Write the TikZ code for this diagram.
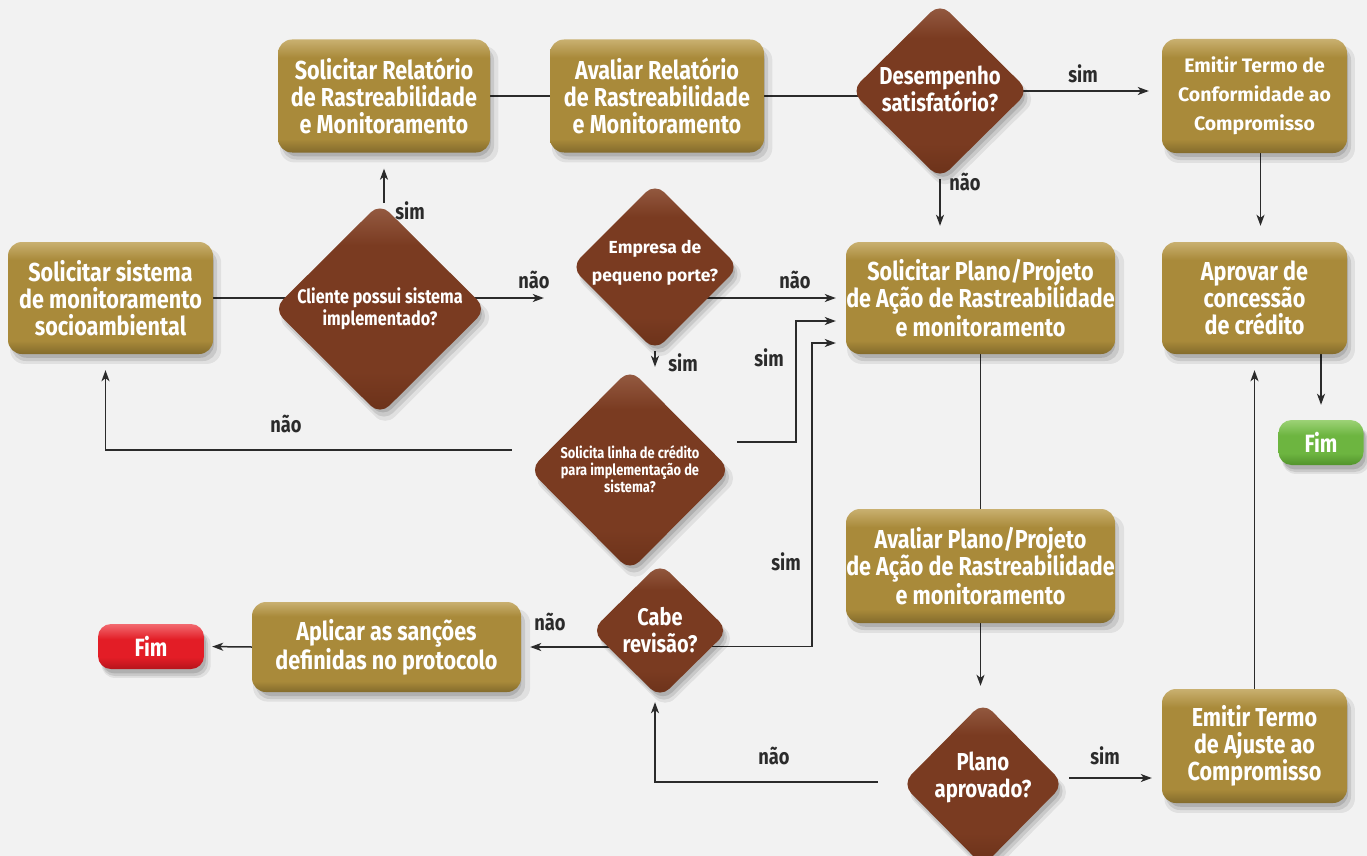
\documentclass[tikz,border=0pt]{standalone}
\usepackage{fontspec}
\setmainfont{Fira Sans}
\newfontfamily\cond{Fira Sans}[FakeStretch=0.83]
\newfontfamily\plain{Fira Sans}
\usetikzlibrary{shapes.geometric,arrows.meta,shadows}
\pgfdeclarelayer{bgl}
\pgfdeclarelayer{lines}
\pgfsetlayers{bgl,lines,main}
\definecolor{bgc}{HTML}{F2F2F2}
\definecolor{gold}{HTML}{A98A3A}
\definecolor{goldT}{HTML}{C9B070}
\definecolor{goldB}{HTML}{836B2C}
\definecolor{brn}{HTML}{7A3B21}
\definecolor{brnT}{HTML}{975E45}
\definecolor{brnD}{HTML}{6A3119}
\definecolor{redc}{HTML}{E31D26}
\definecolor{redT}{HTML}{F26A70}
\definecolor{redB}{HTML}{B5141B}
\definecolor{grn}{HTML}{6DB540}
\definecolor{grnT}{HTML}{9CD276}
\definecolor{grnB}{HTML}{52932C}
\definecolor{lnc}{HTML}{2B2B2B}
\pgfdeclareverticalshading{goldsh}{100bp}{color(0bp)=(goldB); color(25bp)=(goldB); color(31bp)=(gold); color(67bp)=(gold); color(75bp)=(goldT); color(100bp)=(goldT)}
\pgfdeclareverticalshading{brnsh}{100bp}{color(0bp)=(brnD); color(25bp)=(brnD); color(35bp)=(brn); color(65bp)=(brn); color(75bp)=(brnT); color(100bp)=(brnT)}
\pgfdeclareverticalshading{redsh}{100bp}{color(0bp)=(redB); color(25bp)=(redB); color(38bp)=(redc); color(58bp)=(redc); color(75bp)=(redT); color(100bp)=(redT)}
\pgfdeclareverticalshading{grnsh}{100bp}{color(0bp)=(grnB); color(25bp)=(grnB); color(38bp)=(grn); color(58bp)=(grn); color(75bp)=(grnT); color(100bp)=(grnT)}
\tikzset{
  shad/.style={
    drop shadow={shadow xshift=5pt, shadow yshift=-8pt, shadow scale=1.03, fill=black, opacity=0.07},
    drop shadow={shadow xshift=4pt, shadow yshift=-7pt, fill=black, opacity=0.1},
    drop shadow={shadow xshift=3pt, shadow yshift=-5pt, shadow scale=0.98, fill=black, opacity=0.12}},
  proc/.style={shad, rectangle, rounded corners=14pt, inner sep=0pt, shading=goldsh, text=white, align=center, font=\cond\bfseries\fontsize{26}{27}\selectfont},
  dec/.style={shad, diamond, inner sep=0pt, rounded corners=13pt, shading=brnsh},
  dtext/.style={text=white, align=center, inner sep=0pt},
  term/.style={shad, rectangle, rounded corners=13pt, inner sep=0pt, text=white, font=\cond\bfseries\fontsize{25}{27}\selectfont},
  ln/.style={draw=lnc, line width=1.5pt},
  arr/.style={ln, -{Stealth[length=11pt, width=8pt, inset=3pt]}},
  lbl/.style={text=lnc, inner sep=0pt, font=\cond\bfseries\fontsize{22}{24}\selectfont}
}
\begin{document}
\begin{tikzpicture}[x=1pt, y=-1pt]
\begin{pgfonlayer}{bgl}
\fill[bgc] (0,0) rectangle (1367,856);
\end{pgfonlayer}
\useasboundingbox (0,0) rectangle (1367,856);

% process boxes
\node[proc, minimum width=212pt, minimum height=113pt] (srel) at (384,96) {Solicitar Relatório\\de Rastreabilidade\\e Monitoramento};
\node[proc, minimum width=214pt, minimum height=113pt] (avrel) at (657,96) {Avaliar Relatório\\de Rastreabilidade\\e Monitoramento};
\node[proc, minimum width=185pt, minimum height=114pt, font=\plain\bfseries\fontsize{19.5}{29}\selectfont] (emc) at (1254.5,96) {Emitir Termo de\\Conformidade ao\\Compromisso};
\node[proc, minimum width=205pt, minimum height=112pt] (ssis) at (110.5,298) {Solicitar sistema\\de monitoramento\\socioambiental};
\node[proc, minimum width=269pt, minimum height=112pt] (splan) at (980.5,298) {Solicitar Plano/Projeto\\de Ação de Rastreabilidade\\e monitoramento};
\node[proc, minimum width=185pt, minimum height=112pt] (aprov) at (1254.5,298) {Aprovar de\\concessão\\de crédito};
\node[proc, minimum width=269pt, minimum height=114pt] (avpl) at (980.5,566) {Avaliar Plano/Projeto\\de Ação de Rastreabilidade\\e monitoramento};
\node[proc, minimum width=185pt, minimum height=114pt] (emaj) at (1254.5,746) {Emitir Termo\\de Ajuste ao\\Compromisso};
\node[proc, minimum width=269pt, minimum height=90pt] (apl) at (386.5,647) {Aplicar as sanções\\definidas no protocolo};

% terminals
\node[term, shading=redsh, minimum width=106pt, minimum height=45pt] (fimr) at (151,646.5) {Fim};
\node[term, shading=grnsh, minimum width=85pt, minimum height=45pt] (fimg) at (1321,442.5) {Fim};

% decisions
\node[dec, minimum width=178pt, minimum height=176pt] (des) at (940,91) {};
\node[dtext, font=\cond\bfseries\fontsize{24.5}{27}\selectfont] (desT) at ([yshift=2pt]des.center) {Desempenho\\satisfatório?};
\node[dec, minimum width=213pt, minimum height=212pt] (cli) at (380,309) {};
\node[dtext, font=\cond\bfseries\fontsize{19.5}{22}\selectfont] (cliT) at (cli.center) {Cliente possui sistema\\implementado?};
\node[dec, minimum width=168pt, minimum height=168pt] (emp) at (655,267) {};
\node[dtext, font=\plain\bfseries\fontsize{17.5}{28}\selectfont] (empT) at ([yshift=4pt]emp.center) {Empresa de\\pequeno porte?};
\node[dec, minimum width=201pt, minimum height=202pt] (sol) at (630,470) {};
\node[dtext, font=\cond\bfseries\fontsize{15.5}{17}\selectfont] (solT) at ([yshift=1pt]sol.center) {Solicita linha de crédito\\para implementação de\\sistema?};
\node[dec, minimum width=137pt, minimum height=135pt] (cab) at (660,630.5) {};
\node[dtext, font=\cond\bfseries\fontsize{24}{27}\selectfont] (cabT) at (cab.center) {Cabe\\revisão?};
\node[dec, minimum width=162pt, minimum height=164pt] (pla) at (983,784) {};
\node[dtext, font=\cond\bfseries\fontsize{24.5}{27}\selectfont] (plaT) at ([yshift=7pt]pla.center) {Plano\\aprovado?};

% connectors
\begin{pgfonlayer}{lines}
\draw[ln] (ssis.east) -- (ssis.east -| cli.center);
\draw[ln] (srel.east) -- (avrel.west);
\draw[ln] (avrel.east) -- (avrel.east -| des.center);
\draw[arr, shorten >=13pt] (des.center) -- (des.center -| emc.west);
\draw[arr, shorten >=16pt] (des.south) -- (des.south |- splan.north);
\draw[arr, shorten >=16pt] ([xshift=6pt]emc.south) -- ([xshift=6pt]aprov.north);
\draw[arr, shorten >=16pt] (srel.south |- cli.north) -- (srel.south);
\draw[arr, shorten >=27pt] (ssis.east -| cli.center) -- (ssis.east -| emp.west);
\draw[arr, shorten >=10pt] (emp.center |- splan.west) -- (splan.west);
\draw[arr, shorten >=2pt] (emp.south) -- (emp.south |- sol.north);
\draw[arr, shorten >=10pt] ([shift={(6.5pt,28pt)}]sol.east) -| ([shift={(-50pt,-23pt)}]splan.west) -- ([yshift=-23pt]splan.west);
\draw[arr, shorten >=16pt] ([shift={(-17.5pt,20pt)}]sol.west) -| ([xshift=-5pt]ssis.south);
\draw[arr, shorten >=10pt] ([yshift=-16pt]cab.center) -| ([shift={(-34pt,-45pt)}]splan.west) -- ([yshift=-45pt]splan.west);
\draw[arr, shorten >=9pt] (cab.center |- apl.east) -- (apl.east);
\draw[arr, shorten >=8pt] (apl.west) -- (fimr.east);
\draw[ln] (splan.south) -- (avpl.north);
\draw[arr, shorten >=16pt] (avpl.south) -- (avpl.south |- pla.north);
\draw[arr, shorten >=4pt] ([shift={(-24pt,2pt)}]pla.west) -| ([xshift=-5pt]cab.south);
\draw[arr, shorten >=15pt] ([shift={(5pt,6pt)}]pla.east) -- ([shift={(5pt,6pt)}]pla.east -| emaj.west);
\draw[arr, shorten >=16pt] (emaj.north) -- (emaj.north |- aprov.south);
\draw[arr, shorten >=15pt] (aprov.south -| fimg.north) -- (fimg.north);
\end{pgfonlayer}

% labels
\node[lbl] (l1) at (410,211) {sim};
\node[lbl] (l2) at (534,280) {não};
\node[lbl] (l3) at (795,280) {não};
\node[lbl] (l4) at (683,363) {sim};
\node[lbl] (l5) at (769,358) {sim};
\node[lbl] (l6) at (286,424) {não};
\node[lbl] (l7) at (786,562) {sim};
\node[lbl] (l8) at (550,622) {não};
\node[lbl] (l9) at (774,756) {não};
\node[lbl] (l10) at (1105,756) {sim};
\node[lbl] (l11) at (1083,74) {sim};
\node[lbl] (l12) at (965,182) {não};
\end{tikzpicture}
\end{document}
